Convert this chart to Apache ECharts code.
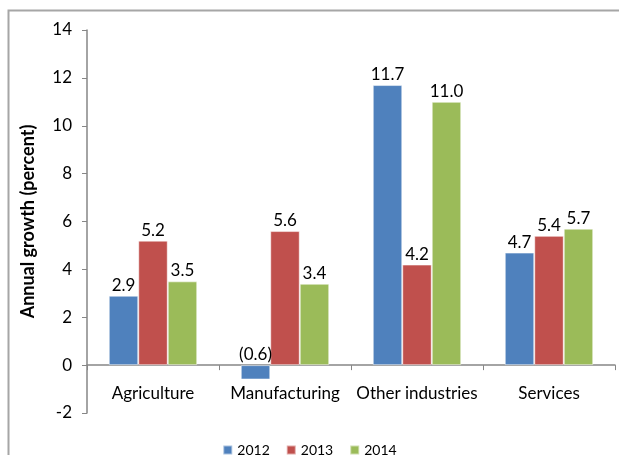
<!DOCTYPE html>
<html>
<head>
<meta charset="utf-8">
<script src="https://cdn.jsdelivr.net/npm/echarts@6/dist/echarts.min.js"></script>
<style>
  html, body { margin: 0; padding: 0; background: #fff; }
  #chart { width: 619px; height: 455px; }
</style>
</head>
<body>
<div id="chart"></div>
<script>
var categories = ["Agriculture", "Manufacturing", "Other industries", "Services"];
var years = ["2012", "2013", "2014"];
var values2012 = [2.9, -0.6, 11.7, 4.7];
var values2013 = [5.2, 5.6, 4.2, 5.4];
var values2014 = [3.5, 3.4, 11.0, 5.7];
var colors = ["#4F81BD", "#C0504D", "#9BBB59"];

var font = "Lato, 'Noto Sans', sans-serif";

function fmt(v) {
    // negatives shown in brackets
    return v < 0 ? "(" + Math.abs(v).toFixed(1) + ")" : v.toFixed(1);
}

function makeSeries(name, data, color) {
    return {
        name: name,
        type: "bar",
        data: data,
        barGap: "0%",
        barCategoryGap: "33%",
        itemStyle: { color: color, borderColor: "rgba(255,255,255,0.5)", borderWidth: 1 },
        label: {
            show: true,
            position: "top",
            distance: 2,
            color: "#000",
            fontFamily: font,
            fontSize: 17,
            formatter: function(p) { return fmt(p.value); }
        }
    };
}

var chart = echarts.init(document.getElementById("chart"));
chart.setOption({
    animation: false,
    textStyle: { fontFamily: font },
    graphic: [{
        type: "polyline",
        shape: { points: [[8.5, 470], [8.5, 10.5], [640, 10.5]] },
        style: { stroke: "#A6A6A6", lineWidth: 2, fill: null }
    }],
    grid: { left: 87, right: 4, top: 30, bottom: 42 },
    legend: {
        data: years,
        bottom: -7,
        left: "center",
        itemWidth: 9,
        itemHeight: 9,
        itemGap: 16,
        icon: "rect",
        textStyle: { fontFamily: font, fontSize: 14, color: "#000" }
    },
    xAxis: {
        type: "category",
        data: categories,
        axisLine: { onZero: true, lineStyle: { color: "#868686", width: 1.5 } },
        axisTick: { show: true, length: 5, lineStyle: { color: "#868686" } },
        // labels sit just under the zero line, not at the grid bottom
        axisLabel: { interval: 0, color: "#000", fontFamily: font, fontSize: 17, margin: -28 }
    },
    yAxis: {
        type: "value",
        min: -2,
        max: 14,
        interval: 2,
        name: "Annual growth (percent)",
        nameLocation: "middle",
        nameGap: 50,
        nameTextStyle: { fontFamily: font, fontSize: 18, fontWeight: "bold", color: "#000" },
        splitLine: { show: false },
        axisLine: { show: true, lineStyle: { color: "#868686", width: 1.5 } },
        axisTick: { show: true, length: 5, lineStyle: { color: "#868686" } },
        axisLabel: { color: "#000", fontFamily: font, fontSize: 17, margin: 15 }
    },
    series: [
        makeSeries(years[0], values2012, colors[0]),
        makeSeries(years[1], values2013, colors[1]),
        makeSeries(years[2], values2014, colors[2])
    ]
});
</script>
</body>
</html>
